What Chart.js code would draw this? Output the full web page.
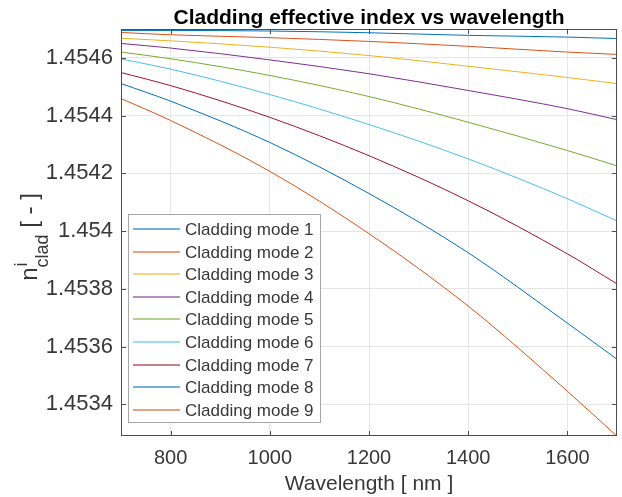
<!DOCTYPE html>
<html>
<head>
<meta charset="utf-8">
<script src="https://cdn.jsdelivr.net/npm/chart.js@4/dist/chart.umd.min.js"></script>
<style>
  html, body { margin: 0; padding: 0; background: #fff; }
</style>
</head>
<body>
<canvas id="chart" width="622" height="497"></canvas>
<script>
// wavelengths (nm) where the curves were read
const wavelength = [700, 800, 1000, 1200, 1400, 1600, 1700];

// cladding effective index per mode
const mode1 = [1.454695, 1.454695, 1.454693, 1.454687, 1.454678, 1.454672, 1.454667];
const mode2 = [1.454688, 1.454680, 1.454670, 1.454657, 1.454640, 1.454620, 1.454612];
const mode3 = [1.454668, 1.454659, 1.454637, 1.454608, 1.454571, 1.454532, 1.454511];
const mode4 = [1.454650, 1.454634, 1.454593, 1.454545, 1.454487, 1.454424, 1.454386];
const mode5 = [1.454620, 1.454597, 1.454539, 1.454466, 1.454377, 1.454279, 1.454226];
const mode6 = [1.454596, 1.454561, 1.454473, 1.454369, 1.454250, 1.454112, 1.454035];
const mode7 = [1.454549, 1.454504, 1.454394, 1.454261, 1.454105, 1.453921, 1.453817];
const mode8 = [1.454511, 1.454450, 1.454307, 1.454130, 1.453925, 1.453681, 1.453556];
const mode9 = [1.454459, 1.454383, 1.454207, 1.453991, 1.453740, 1.453445, 1.453289];

const modeLabels = ['Cladding mode 1', 'Cladding mode 2', 'Cladding mode 3',
    'Cladding mode 4', 'Cladding mode 5', 'Cladding mode 6', 'Cladding mode 7',
    'Cladding mode 8', 'Cladding mode 9'];

const xTicks = [800, 1000, 1200, 1400, 1600];
const xTickLabels = ['800', '1000', '1200', '1400', '1600'];
const yTicks = [1.4534, 1.4536, 1.4538, 1.454, 1.4542, 1.4544, 1.4546];
const yTickLabels = ['1.4534', '1.4536', '1.4538', '1.454', '1.4542', '1.4544', '1.4546'];

// matlab default colour order
const colors = ['#0072BD', '#D95319', '#EDB120', '#7E2F8E', '#77AC30',
    '#4DBEEE', '#A2142F', '#0072BD', '#D95319'];

const FONT = '"Liberation Sans", Arial, Helvetica, sans-serif';
const TEXT = '#383838';

const series = [mode1, mode2, mode3, mode4, mode5, mode6, mode7, mode8, mode9];
const datasets = series.map((s, i) => ({
    label: modeLabels[i],
    data: s.map((v, j) => ({ x: wavelength[j], y: v })),
    borderColor: colors[i],
    backgroundColor: colors[i],
    borderWidth: 1,
    pointRadius: 0,
    cubicInterpolationMode: 'monotone',
    fill: false,
}));

// box, inward ticks, titles and legend the way matlab draws them
const decor = {
    id: 'decor',
    afterDraw(chart) {
        const ctx = chart.ctx;
        const a = chart.chartArea;
        const xs = chart.scales.x;
        const ys = chart.scales.y;
        ctx.save();

        // axes box
        ctx.strokeStyle = '#4d4d4d';
        ctx.lineWidth = 1;
        ctx.strokeRect(a.left + 0.5, a.top + 0.5, a.right - a.left - 1, a.bottom - a.top - 1);

        // inward tick marks
        ctx.beginPath();
        xTicks.forEach(v => {
            const px = Math.round(xs.getPixelForValue(v)) + 0.5;
            ctx.moveTo(px, a.bottom); ctx.lineTo(px, a.bottom - 5);
            ctx.moveTo(px, a.top); ctx.lineTo(px, a.top + 5);
        });
        yTicks.forEach(v => {
            const py = Math.round(ys.getPixelForValue(v)) + 0.5;
            ctx.moveTo(a.left, py); ctx.lineTo(a.left + 5, py);
            ctx.moveTo(a.right, py); ctx.lineTo(a.right - 5, py);
        });
        ctx.stroke();

        // title
        const cx = (a.left + a.right) / 2;
        ctx.fillStyle = '#000';
        ctx.font = 'bold 21px ' + FONT;
        ctx.textAlign = 'center';
        ctx.textBaseline = 'alphabetic';
        ctx.fillText('Cladding effective index vs wavelength', cx, 24);

        // x axis title
        ctx.fillStyle = TEXT;
        ctx.font = '21px ' + FONT;
        ctx.fillText('Wavelength [ nm ]', cx, 490);

        // y axis title: n^i_clad [ - ]
        ctx.save();
        ctx.translate(37, 237);
        ctx.rotate(-Math.PI / 2);
        ctx.textAlign = 'left';
        const big = '24px ' + FONT;
        const small = '18px ' + FONT;
        ctx.font = big;
        const wN = ctx.measureText('n').width;
        const wRest = ctx.measureText(' [ - ]').width;
        ctx.font = small;
        const wSub = ctx.measureText('clad').width;
        let x0 = -(wN + wSub + wRest) / 2;
        ctx.font = big;
        ctx.fillText('n', x0, 0);
        ctx.font = small;
        ctx.fillText('i', x0 + wN + 1, -10);
        ctx.fillText('clad', x0 + wN, 11);
        ctx.font = big;
        ctx.fillText(' [ - ]', x0 + wN + wSub, 0);
        ctx.restore();

        // legend inside the axes
        const lx = 128, ly = 214, lw = 192, lh = 208, row = 22.6;
        ctx.fillStyle = '#fff';
        ctx.fillRect(lx, ly, lw, lh);
        ctx.strokeStyle = '#a6a6a6';
        ctx.strokeRect(lx + 0.5, ly + 0.5, lw, lh);
        ctx.font = '17px ' + FONT;
        ctx.textBaseline = 'middle';
        ctx.textAlign = 'left';
        chart.data.datasets.forEach((d, i) => {
            const y = Math.round(ly + 15 + i * row);
            ctx.strokeStyle = d.borderColor;
            ctx.globalAlpha = 0.55;
            ctx.lineWidth = 2;
            ctx.beginPath();
            ctx.moveTo(lx + 5, y);
            ctx.lineTo(lx + 52, y);
            ctx.stroke();
            ctx.globalAlpha = 1;
            ctx.fillStyle = TEXT;
            ctx.fillText(d.label, lx + 57, y + 1);
        });

        ctx.restore();
    }
};

new Chart(document.getElementById('chart'), {
    type: 'line',
    data: { datasets: datasets },
    options: {
        responsive: false,
        animation: false,
        layout: { padding: { top: 29, right: 5, left: 0, bottom: 0 } },
        plugins: {
            legend: { display: false },
            title: { display: false },
            tooltip: { enabled: false },
        },
        scales: {
            x: {
                type: 'linear',
                min: 700,
                max: 1700,
                afterFit: s => { s.height = 61; },
                afterBuildTicks: s => { s.ticks = xTicks.map(v => ({ value: v })); },
                ticks: {
                    font: { family: FONT, size: 20 },
                    color: TEXT,
                    padding: 10,
                    maxRotation: 0,
                    autoSkip: false,
                    callback: (v, i) => xTickLabels[i],
                },
                grid: { color: '#e6e6e6', drawTicks: false },
                border: { display: false },
            },
            y: {
                type: 'linear',
                min: 1.45329,
                max: 1.45470,
                afterFit: s => { s.width = 121; },
                afterBuildTicks: s => { s.ticks = yTicks.map(v => ({ value: v })); },
                ticks: {
                    font: { family: FONT, size: 22 },
                    color: TEXT,
                    padding: 8,
                    autoSkip: false,
                    callback: (v, i) => yTickLabels[i],
                },
                grid: { color: '#e6e6e6', drawTicks: false },
                border: { display: false },
            },
        },
    },
    plugins: [decor],
});
</script>
</body>
</html>
